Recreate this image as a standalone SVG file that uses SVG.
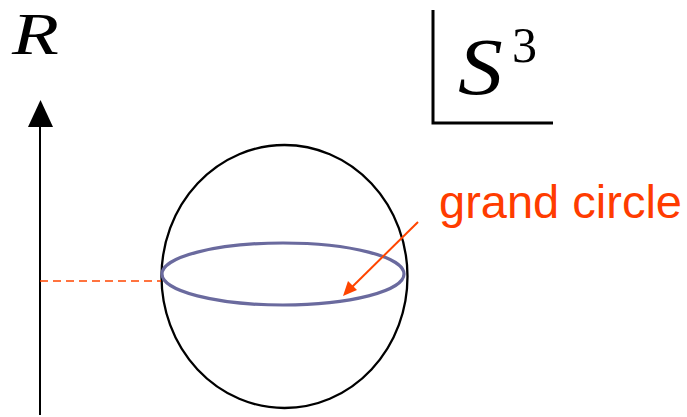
<svg xmlns="http://www.w3.org/2000/svg" width="687" height="417" viewBox="0 0 687 417">
<style>
.math{font-family:"Liberation Serif","DejaVu Serif",serif;font-style:italic;fill:#000}
.lbl{font-family:"Liberation Sans",Arial,sans-serif;fill:#ff3c00}
</style>
<rect width="687" height="417" fill="#fff"/>
<g id="axis">
<line x1="40" y1="415" x2="40" y2="122" stroke="#000" stroke-width="2"/>
<polygon points="40.5,100 28,127 53,127" fill="#000"/>
<text class="math" font-size="60" transform="translate(12,54) scale(1.28,1)">R</text>
</g>
<g id="space-label">
<path d="M433,10 V123 H553" fill="none" stroke="#000" stroke-width="3"/>
<text class="math" font-size="80" transform="translate(458,94) scale(1.12,1)">S</text>
<text x="512" y="62" font-family="Liberation Serif,DejaVu Serif,serif" font-size="50">3</text>
</g>
<g id="sphere">
<ellipse cx="284.5" cy="276.5" rx="123" ry="131.5" fill="none" stroke="#000" stroke-width="2.3"/>
</g>
<g id="grand-circle">
<ellipse cx="283" cy="274" rx="121" ry="31" fill="none" stroke="#6a6a9e" stroke-width="3.2"/>
</g>
<g id="connectors">
<line x1="40" y1="281" x2="161" y2="281" stroke="#ff4500" stroke-width="1.5" stroke-dasharray="8,5"/>
<line x1="418" y1="222" x2="350" y2="289" stroke="#ff4500" stroke-width="2"/>
<polygon points="343,296 348,281 357,290" fill="#ff4500"/>
</g>
<g id="label">
<text class="lbl" x="439" y="218" font-size="47" textLength="243" lengthAdjust="spacingAndGlyphs">grand circle</text>
</g>
</svg>
